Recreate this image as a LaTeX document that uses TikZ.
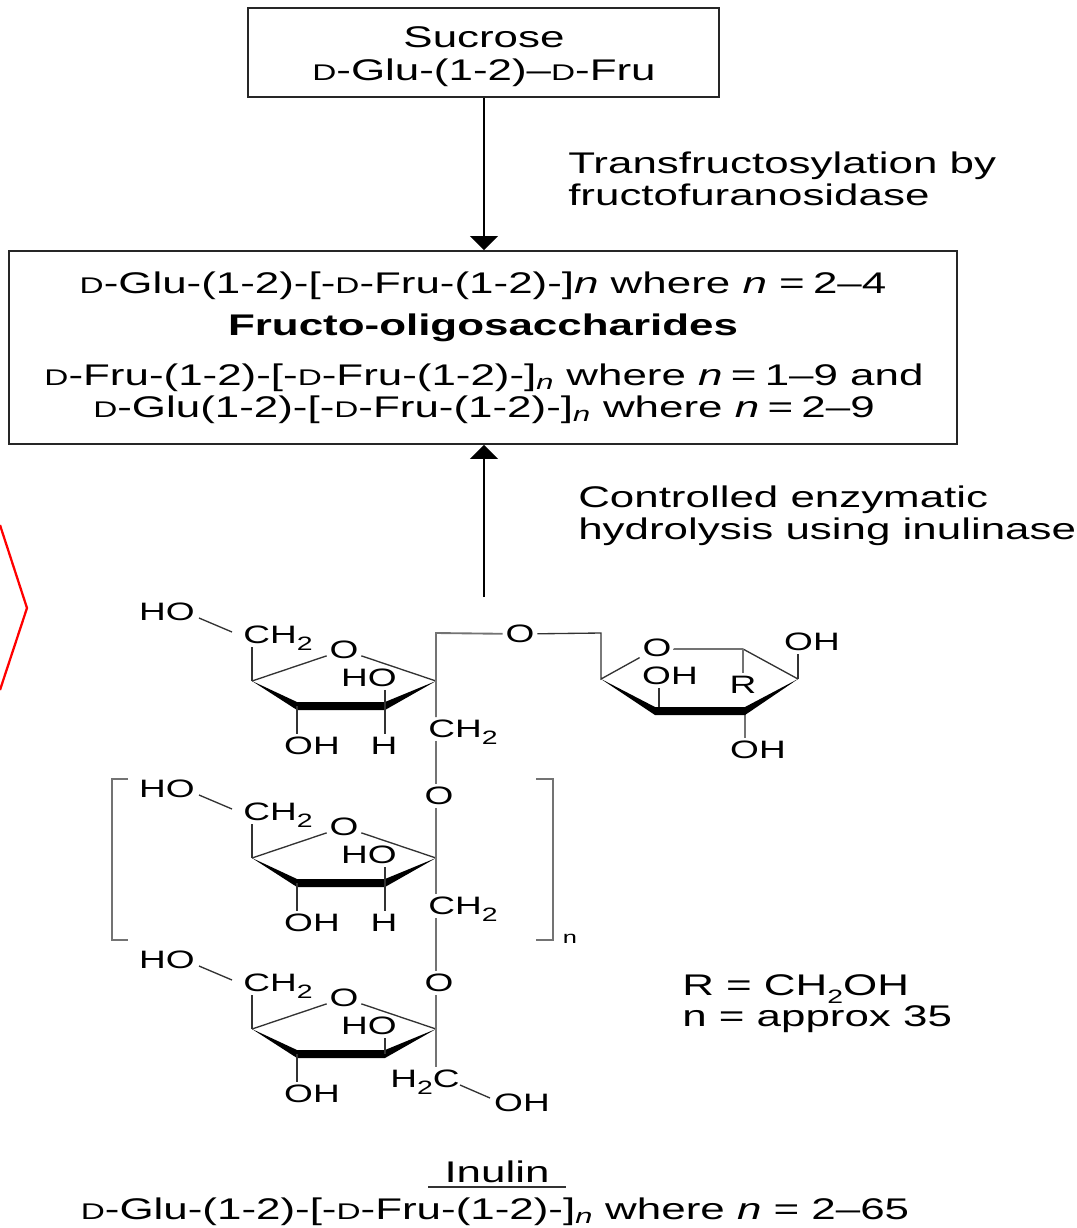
\documentclass[tikz,border=0pt]{standalone}
\usepackage{fontspec}
\setmainfont[FakeStretch=1.47]{Liberation Sans}
\usetikzlibrary{arrows.meta}
\newcommand{\smD}{{\fontsize{17}{18}\selectfont D}}
\newcommand{\lowtwo}{\raisebox{-0.28em}[0pt][0pt]{\fontsize{14.5}{15}\selectfont 2}}
\tikzset{
  lbl/.style={font=\fontsize{22.4}{24}\selectfont,inner sep=0pt,anchor=base},
  txtl/.style={lbl,anchor=base west},
  atom/.style={font=\fontsize{18.9}{20}\selectfont,inner sep=2pt},
  box/.style={draw=black!85,line width=1.1pt},
  bond/.style={black!80,line width=1pt},
  gbond/.style={black!55,line width=1.4pt},
  arr/.style={-{Triangle[width=21pt,length=10.5pt]},line width=1pt}
}
\begin{document}
\begin{tikzpicture}[x=0.75pt,y=-0.75pt]
\useasboundingbox (0,0) rectangle (1076,1228);
\coordinate (ra) at (0,525); \coordinate (rb) at (27,608); \coordinate (rc) at (0,690);
\draw[red,line width=1.7pt,line join=miter] (ra)--(rb)--(rc);
% boxes
\node[box,minimum width=353pt,minimum height=67pt] (sucbox) at (483.5,52.5) {};
\node[box,minimum width=711pt,minimum height=145pt] (fosbox) at (483,347.5) {};
\node[lbl] (suc) at (484,47) {Sucrose};
\node[lbl] (sucf) at (484,80) {\smD-Glu-(1-2)--\smD-Fru};
\node[txtl] (tfa) at (568,173) {Transfructosylation by};
\node[txtl] (tfb) at (568,205) {fructofuranosidase};
\node[lbl] (fa) at (483,293) {\smD-Glu-(1-2)-[-\smD-Fru-(1-2)-]\textit{n} where \textit{n} =\;2--4};
\node[lbl] (fb) at (483,335) {\textbf{Fructo-oligosaccharides}};
\node[lbl] (fc) at (484,385) {\smD-Fru-(1-2)-[-\smD-Fru-(1-2)-]\textsubscript{\textit{n}} where \textit{n}\;=\;1--9 and};
\node[lbl] (fd) at (484,417) {\smD-Glu(1-2)-[-\smD-Fru-(1-2)-]\textsubscript{\textit{n}} where \textit{n}\;=\;2--9};
\node[txtl] (cea) at (578,507) {Controlled enzymatic};
\node[txtl] (ceb) at (578,539) {hydrolysis using inulinase};
\coordinate (arrs) at (484,597);
\draw[arr] (sucbox.south -| arrs) -- (fosbox.north -| arrs);
\draw[arr] (arrs) -- (fosbox.south -| arrs);
% three rings of the chain
\foreach \ry/\rn in {0/a,177/b,348/c}{
  \coordinate (ll\rn) at (252,681+\ry); \coordinate (bl\rn) at (297,706+\ry); \coordinate (br\rn) at (385,706+\ry); \coordinate (rr\rn) at (436,681+\ry);
  \node[atom] (ho\rn) at (167,612+\ry) {HO};
  \node[atom] (ch\rn) at (278,635+\ry) {CH\lowtwo};
  \node[atom] (o\rn) at (344,650+\ry) {O};
  \node[atom] (hi\rn) at (369,678+\ry) {HO};
  \node[atom] (oh\rn) at (312,746+\ry) {OH};
  \coordinate (hoe\rn) at (199,618+\ry); \coordinate (che\rn) at (232,632+\ry);
  \draw[bond] (hoe\rn) -- (che\rn);
  \draw[bond] (ll\rn) -- (ll\rn |- ch\rn.south);
  \draw[bond] (ll\rn) -- (o\rn); \draw[bond] (o\rn) -- (rr\rn);
  \fill[black] (ll\rn) -- ([yshift=-3pt]bl\rn) -- ([yshift=-3pt]br\rn) -- (rr\rn) -- ([yshift=3pt]br\rn) -- ([yshift=3pt]bl\rn) -- cycle;
  \draw[bond] (bl\rn) -- (bl\rn |- oh\rn.north);
  \draw[bond] (br\rn) -- (br\rn |- hi\rn.south);
}
\foreach \ry/\rn in {0/a,177/b}{
  \node[atom] (h\rn) at (384,746+\ry) {H};
  \draw[bond] (br\rn) -- (br\rn |- h\rn.north);
}
% chain down the right side
\coordinate (cnr) at (436,633);
\node[atom] (olink) at (520,634) {O};
\node[atom] (cha2) at (463,729) {CH\lowtwo};
\node[atom] (oab) at (439,796) {O};
\node[atom] (chb2) at (463,906) {CH\lowtwo};
\node[atom] (obc) at (439,983) {O};
\node[atom] (hhc) at (425,1079) {H\lowtwo C};
\node[atom] (ohe) at (522,1103) {OH};
\draw[gbond] (olink) -- (cnr) -- (cnr |- cha2.north);
\draw[gbond] (cnr |- cha2.south) -- (cnr |- oab.north);
\draw[gbond] (cnr |- oab.south) -- (cnr |- chb2.north);
\draw[gbond] (cnr |- chb2.south) -- (cnr |- obc.north);
\draw[gbond] (cnr |- obc.south) -- (cnr |- hhc.north);
\coordinate (hcb) at (460,1085); \coordinate (ohb) at (490,1098);
\draw[bond] (hcb) -- (ohb);
% fourth ring, the one on the right
\coordinate (xl) at (601,679); \coordinate (xt) at (601,633); \coordinate (xa) at (655,711); \coordinate (xb) at (745,711); \coordinate (xr) at (798,679); \coordinate (xu) at (743,649);
\node[atom] (xo) at (657,648) {O};
\node[atom] (xoh) at (812,642) {OH};
\node[atom] (xr2) at (743,685) {R};
\node[atom] (xin) at (670,676) {OH};
\node[atom] (xbt) at (758,750) {OH};
\draw[bond] (olink) -- (xt) -- (xl) -- (xo);
\draw[gbond] (xo) -- (xu -| xo.east) -- (xu);
\draw[bond] (xu) -- (xr);
\draw[gbond] (xu) -- (xr2);
\draw[bond] (xr) -- (xr |- xoh.south);
\draw[bond] (xin.south -| xa) ++(4,0) -- ([xshift=3pt]xa);
\draw[gbond] (xb) -- (xb |- xbt.north);
\fill[black] (xl) -- ([yshift=-3pt]xa) -- ([yshift=-3pt]xb) -- (xr) -- ([yshift=3pt]xb) -- ([yshift=3pt]xa) -- cycle;
% brackets
\coordinate (bla) at (128,779); \coordinate (blb) at (112,779); \coordinate (blc) at (112,940); \coordinate (bld) at (128,940);
\coordinate (bra) at (536,779); \coordinate (brb) at (553,779); \coordinate (brc) at (553,940); \coordinate (brd) at (536,940);
\draw[gbond] (bla) -- (blb) -- (blc) -- (bld);
\draw[gbond] (bra) -- (brb) -- (brc) -- (brd);
\node[atom,font=\fontsize{13}{14}\selectfont] (nsub) at (570,939) {n};
% legend and title of the polymer
\node[txtl] (rlab) at (682,995) {R = CH\lowtwo OH};
\node[txtl] (nlab) at (682,1026) {n = approx 35};
\node[lbl] (inu) at (497,1182) {Inulin};
\coordinate (ula) at (428,1187); \coordinate (ulb) at (566,1187);
\draw[bond] (ula) -- (ulb);
\node[lbl] (inf) at (495,1219) {\smD-Glu-(1-2)-[-\smD-Fru-(1-2)-]\textsubscript{\textit{n}} where \textit{n} = 2--65};
\end{tikzpicture}
\end{document}
